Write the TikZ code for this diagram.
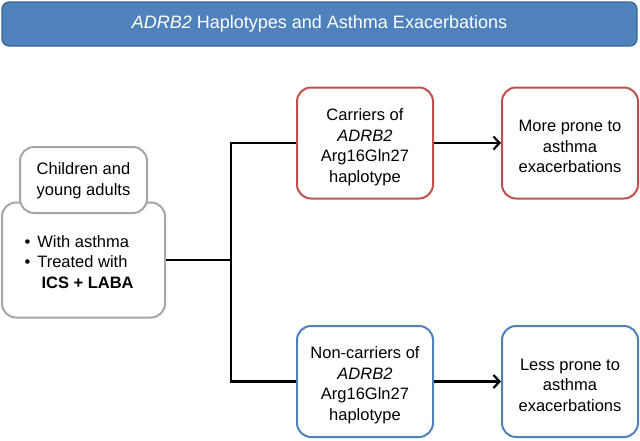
\documentclass[tikz,border=0pt]{standalone}
\usepackage{fontspec}
\setmainfont{Liberation Sans}
\usetikzlibrary{arrows.meta}

\definecolor{titleblue}{HTML}{4F81BD}
\definecolor{titleedge}{HTML}{3A6594}
\definecolor{boxred}{HTML}{C0504D}
\definecolor{boxblue}{HTML}{4F81BD}
\definecolor{boxgray}{HTML}{A6A6A6}

\begin{document}
\begin{tikzpicture}[x=1pt, y=-1pt,
    txt/.style={font=\fontsize{16.5}{20.5}\selectfont, align=center},
    box/.style={draw, line width=2pt, rounded corners=14pt, fill=white,
      minimum width=136pt, minimum height=111pt, inner sep=0pt},
    redbox/.style={box, draw=boxred},
    bluebox/.style={box, draw=boxblue},
    graybox/.style={box, draw=boxgray},
    link/.style={line width=2.2pt, black},
    >={Straight Barb[length=6pt,width=13pt]}]
        \useasboundingbox (0,0) rectangle (640,440);

        % Title
        \node[draw=titleedge, fill=titleblue, line width=1.2pt, rounded corners=7pt,
          minimum width=635pt, minimum height=44pt, text=white,
          font=\fontsize{18}{22}\selectfont] (title) at (319.5,24)
          {\textit{ADRB2} Haplotypes and Asthma Exacerbations};

        % Population
        \node[graybox, minimum width=163pt, minimum height=115pt] (grp) at (83.5,260) {};
        \node[txt, align=left, anchor=west] (grptxt) at (21,262)
          {\textbullet\hspace{7pt}With asthma\\
           \textbullet\hspace{7pt}Treated with\\
           \hspace{17pt}\textbf{ICS + LABA}};
        \node[graybox, minimum width=127pt, minimum height=66pt] (kid) at (83.5,180) {};
        \node[txt] (kidtxt) at (83.5,180.5) {Children and\\young adults};

        % Haplotype groups
        \node[redbox] (carrier) at (365,143) {};
        \node[txt] (carriertxt) at (365,147) {Carriers of\\\textit{ADRB2}\\Arg16Gln27\\haplotype};
        \node[bluebox] (noncarrier) at (365,381.5) {};
        \node[txt] (noncarriertxt) at (365,385) {Non-carriers of\\\textit{ADRB2}\\Arg16Gln27\\haplotype};

        % Outcomes
        \node[redbox] (more) at (570,143) {};
        \node[txt] (moretxt) at (570,146.5) {More prone to\\asthma\\exacerbations};
        \node[bluebox] (less) at (570,381.5) {};
        \node[txt] (lesstxt) at (570,385) {Less prone to\\asthma\\exacerbations};

        % Connectors
        \coordinate (split) at (231,260);
        \draw[link] (grp.east) -- (split);
        \draw[link] (carrier.west) -| (split) |- (noncarrier.west);
        \draw[link,->] (carrier) -- (more);
        \draw[link,->] (noncarrier) -- (less);

      \end{tikzpicture}
\end{document}
